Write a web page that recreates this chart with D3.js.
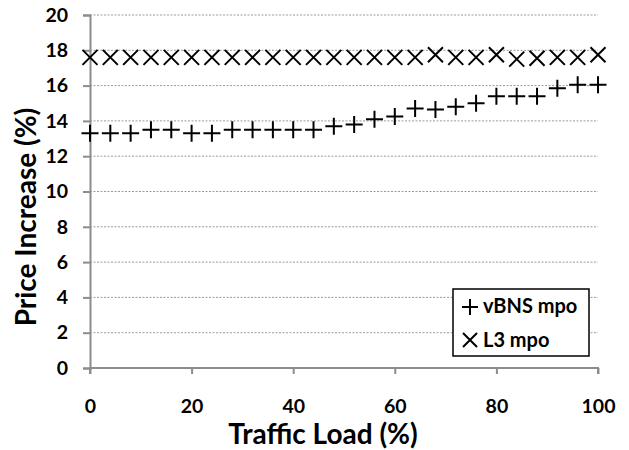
<!DOCTYPE html>
<html>
<head>
<meta charset="utf-8">
<script src="https://cdn.jsdelivr.net/npm/d3@7"></script>
<style>
  html, body { margin: 0; padding: 0; background: #fff; }
  svg { display: block; }
  text { font-family: Lato, "Open Sans", sans-serif; font-weight: bold; fill: #000; }
</style>
</head>
<body>
<svg id="chart" width="629" height="450"></svg>
<script>
const trafficLoad = [0,4,8,12,16,20,24,28,32,36,40,44,48,52,56,60,64,68,72,76,80,84,88,92,96,100];
const vbnsMpo = [13.3,13.3,13.3,13.5,13.5,13.3,13.3,13.5,13.5,13.5,13.5,13.5,13.7,13.8,14.1,14.25,14.7,14.65,14.8,15.0,15.4,15.4,15.4,15.85,16.05,16.05];
const l3Mpo = [17.6,17.6,17.6,17.6,17.6,17.6,17.6,17.6,17.6,17.6,17.6,17.6,17.6,17.6,17.6,17.6,17.6,17.75,17.6,17.6,17.75,17.5,17.55,17.6,17.6,17.75];
const xTicks = [0,20,40,60,80,100];
const yTicks = [0,2,4,6,8,10,12,14,16,18,20];
const seriesNames = ["vBNS mpo", "L3 mpo"];

const svg = d3.select("#chart");
const pL = 90, pR = 598, pT = 15, pB = 368;
const x = d3.scaleLinear().domain([0,100]).range([pL,pR]);
const y = d3.scaleLinear().domain([0,20]).range([pB,pT]);
const gray = "#8c8c8c";
const tickFont = 19.5;

// gridlines
svg.append("g").selectAll("line").data(yTicks.filter(d => d > 0)).join("line")
  .attr("x1", pL).attr("x2", pR)
  .attr("y1", d => y(d)).attr("y2", d => y(d))
  .attr("stroke", "#9a9a9a").attr("stroke-width", 1).attr("stroke-dasharray", "2,1.5");

// y axis
const yAxis = svg.append("g").attr("transform", `translate(${pL},0)`)
  .call(d3.axisLeft(y).tickValues(yTicks).tickSize(7).tickPadding(15));
yAxis.select(".domain").attr("stroke", gray).attr("stroke-width", 2);
yAxis.selectAll(".tick line").attr("stroke", gray).attr("stroke-width", 2);
yAxis.selectAll(".tick text").attr("font-size", tickFont).attr("font-family", "Lato, sans-serif").attr("font-weight", "bold").attr("fill", "#000");

// x axis
const xAxis = svg.append("g").attr("transform", `translate(0,${pB})`)
  .call(d3.axisBottom(x).tickValues(xTicks).tickSize(6).tickPadding(25));
xAxis.select(".domain").attr("stroke", gray).attr("stroke-width", 2).attr("d", `M${pL},6V0H${pR}V6`);
xAxis.selectAll(".tick line").attr("stroke", gray).attr("stroke-width", 2);
xAxis.selectAll(".tick text").attr("font-size", tickFont).attr("font-family", "Lato, sans-serif").attr("font-weight", "bold").attr("fill", "#000");

// axis titles
svg.append("text").attr("x", 323).attr("y", 444)
  .attr("text-anchor", "middle").attr("font-size", 28).text("Traffic Load (%)");
svg.append("text").attr("transform", `translate(36,217) rotate(-90)`)
  .attr("text-anchor", "middle").attr("font-size", 28).text("Price Increase (%)");

const plusPath = s => `M${-s},0H${s}M0,${-s}V${s}`;
const crossPath = s => `M${-s},${-s}L${s},${s}M${-s},${s}L${s},${-s}`;

// vBNS markers
svg.append("g").selectAll("path").data(trafficLoad).join("path")
  .attr("transform", (d, i) => `translate(${x(d)},${y(vbnsMpo[i])})`)
  .attr("d", plusPath(8.5)).attr("stroke", "#000").attr("stroke-width", 2).attr("fill", "none");

// L3 markers
svg.append("g").selectAll("path").data(trafficLoad).join("path")
  .attr("transform", (d, i) => `translate(${x(d)},${y(l3Mpo[i])})`)
  .attr("d", crossPath(7.5)).attr("stroke", "#000").attr("stroke-width", 2).attr("fill", "none");

// legend
const lg = svg.append("g");
lg.append("rect").attr("x", 453).attr("y", 289).attr("width", 136).attr("height", 67)
  .attr("fill", "#fff").attr("stroke", "#000").attr("stroke-width", 1.5);
lg.append("path").attr("transform", "translate(470,307)").attr("d", plusPath(8))
  .attr("stroke", "#000").attr("stroke-width", 2).attr("fill", "none");
lg.append("path").attr("transform", "translate(470,340)").attr("d", crossPath(7))
  .attr("stroke", "#000").attr("stroke-width", 2).attr("fill", "none");
lg.append("text").attr("x", 483).attr("y", 313).attr("font-size", 20).text(seriesNames[0]);
lg.append("text").attr("x", 483).attr("y", 347).attr("font-size", 20).text(seriesNames[1]);
</script>
</body>
</html>
